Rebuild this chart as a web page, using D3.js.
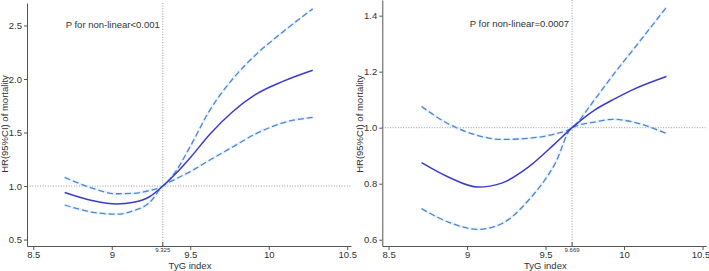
<!DOCTYPE html>
<html><head><meta charset="utf-8">
<script src="https://cdn.jsdelivr.net/npm/d3@7"></script>
<style>
body{margin:0;background:#fff;}
svg{display:block;}
text{font-family:"Liberation Sans Narrow","Arial Narrow","Liberation Sans",Arial,sans-serif;fill:#333;}
</style></head>
<body>
<svg id="c" width="709" height="271"></svg>
<script>
// ---- Data ----
const xTicks = [8.5, 9, 9.5, 10, 10.5];
const xTickLabels = ["8.5", "9", "9.5", "10", "10.5"];

// Left panel
const leftX     = [8.70, 8.88, 9.03, 9.14, 9.24, 9.325, 9.40, 9.50, 9.625, 9.77, 9.92, 10.09, 10.28];
const leftHR    = [0.940, 0.863, 0.832, 0.848, 0.900, 1.000, 1.105, 1.265, 1.484, 1.694, 1.859, 1.978, 2.082];
const leftUpper = [1.081, 0.979, 0.928, 0.932, 0.958, 1.000, 1.120, 1.370, 1.710, 2.000, 2.230, 2.440, 2.655];
const leftLower = [0.823, 0.755, 0.737, 0.770, 0.845, 1.000, 1.060, 1.135, 1.243, 1.365, 1.490, 1.590, 1.642];
const leftYTicks = [0.5, 1.0, 1.5, 2.0, 2.5];
const leftYDomain = [0.44, 2.71];
const leftRef = 9.325, leftRefLabel = "9.325";
const leftP = "P for non-linear<0.001";

// Right panel
const rightX     = [8.71, 8.88, 9.07, 9.22, 9.39, 9.56, 9.669, 9.81, 9.93, 10.06, 10.27];
const rightHR    = [0.875, 0.824, 0.788, 0.802, 0.859, 0.943, 1.000, 1.062, 1.100, 1.137, 1.183];
const rightUpper = [1.076, 1.014, 0.972, 0.958, 0.962, 0.978, 1.000, 1.098, 1.188, 1.280, 1.430];
const rightLower = [0.711, 0.663, 0.637, 0.657, 0.740, 0.871, 1.000, 1.020, 1.030, 1.020, 0.979];
const rightYTicks = [0.6, 0.8, 1.0, 1.2, 1.4];
const rightYDomain = [0.5775, 1.456];
const rightRef = 9.669, rightRefLabel = "9.669";
const rightP = "P for non-linear=0.0007";

const xTitle = "TyG index";
const yTitle = "HR(95%CI) of mortality";

// ---- Drawing ----
const svg = d3.select("#c");
const solidColor = "#3b3bd0";
const dashColor = "#4d86d3";
const axisColor = "#555";

function panel(offsetX, cfg) {
  const g = svg.append("g").attr("transform", `translate(${offsetX},0)`);
  const x = d3.scaleLinear().domain([8.46, 10.524]).range([27, 351]);
  const y = d3.scaleLinear().domain(cfg.yDomain).range([246, cfg.yTop]);

  // reference lines
  g.append("line").attr("x1", 27).attr("x2", 351)
    .attr("y1", y(1)).attr("y2", y(1))
    .attr("stroke", "#9a9a9a").attr("stroke-width", 1).attr("stroke-dasharray", "1,1.6");
  g.append("line").attr("x1", x(cfg.ref)).attr("x2", x(cfg.ref))
    .attr("y1", cfg.yTop).attr("y2", 246)
    .attr("stroke", "#9a9a9a").attr("stroke-width", 1).attr("stroke-dasharray", "1,1.6");

  // x axis
  const xa = g.append("g").attr("transform", "translate(0,246)")
    .call(d3.axisBottom(x).tickValues(xTicks).tickFormat((d, i) => xTickLabels[i]).tickSize(4).tickSizeOuter(0));
  xa.select(".domain").attr("stroke", axisColor);
  xa.selectAll(".tick line").attr("stroke", axisColor);
  xa.selectAll(".tick text").attr("font-size", 9.5).attr("dy", "0.9em").attr("y", 3).style("fill", "#333");
  if (cfg.lastDx) xa.selectAll(".tick text").filter((d, i) => i === xTicks.length - 1).attr("dx", cfg.lastDx);

  // small ref tick & label
  g.append("line").attr("x1", x(cfg.ref)).attr("x2", x(cfg.ref)).attr("y1", 242).attr("y2", 246)
    .attr("stroke", axisColor);
  g.append("text").attr("x", x(cfg.ref)).attr("y", 252).attr("text-anchor", "middle")
    .attr("font-size", 6).text(cfg.refLabel);

  // y axis
  const ya = g.append("g").attr("transform", "translate(27,0)")
    .call(d3.axisLeft(y).tickValues(cfg.yTicks).tickFormat(d3.format(".1f")).tickSize(3).tickSizeOuter(0));
  ya.select(".domain").attr("stroke", axisColor);
  ya.selectAll(".tick line").attr("stroke", axisColor);
  ya.selectAll(".tick text").attr("font-size", 9.5).attr("x", -5).style("fill", "#333");

  // titles
  g.append("text").attr("x", 190).attr("y", 268.5).attr("text-anchor", "middle")
    .attr("font-size", 9.5).text(xTitle);
  g.append("text").attr("transform", "translate(8,124) rotate(-90)").attr("text-anchor", "middle")
    .attr("font-size", 9.5).text(yTitle);

  // annotation
  g.append("text").attr("x", x(cfg.ref) - 3).attr("y", cfg.pY).attr("text-anchor", "end")
    .attr("font-size", 9.5).text(cfg.p);

  // curves
  const line = vals => d3.line().x((d, i) => x(cfg.xs[i])).y(d => y(d)).curve(d3.curveMonotoneX)(vals);
  [cfg.upper, cfg.lower].forEach(v => {
    g.append("path").attr("d", line(v)).attr("fill", "none")
      .attr("stroke", "#d6e8f8").attr("stroke-width", 3).attr("opacity", 0.5);
  });
  [cfg.upper, cfg.lower].forEach(v => {
    g.append("path").attr("d", line(v)).attr("fill", "none")
      .attr("stroke", dashColor).attr("stroke-width", 1.3).attr("stroke-dasharray", "6,3");
  });
  g.append("path").attr("d", line(cfg.hr)).attr("fill", "none")
    .attr("stroke", solidColor).attr("stroke-width", 1.5);
}

panel(0, {xs: leftX, hr: leftHR, upper: leftUpper, lower: leftLower, yTicks: leftYTicks,
  yDomain: leftYDomain, yTop: 3, ref: leftRef, refLabel: leftRefLabel, p: leftP, pY: 28});
panel(355.3, {xs: rightX, hr: rightHR, upper: rightUpper, lower: rightLower, yTicks: rightYTicks,
  yDomain: rightYDomain, yTop: 0, ref: rightRef, refLabel: rightRefLabel, p: rightP, pY: 27, lastDx: -2});
</script>
</body></html>
